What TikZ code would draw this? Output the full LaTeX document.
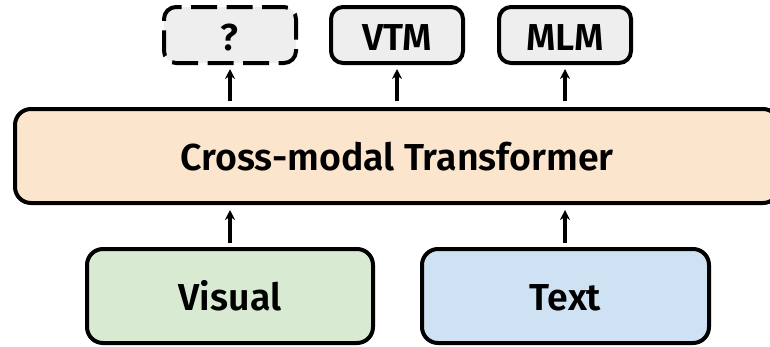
\documentclass[tikz,border=0pt]{standalone}
\usepackage{fontspec}
\setmainfont{Fira Sans}[BoldFont={Fira Sans SemiBold}]
\usetikzlibrary{arrows.meta}
\definecolor{grayfill}{HTML}{EEEEEE}
\definecolor{peach}{HTML}{FCE5CD}
\definecolor{greenfill}{HTML}{D9EAD3}
\definecolor{bluefill}{HTML}{CFE2F3}
\begin{document}
\begin{tikzpicture}[x=1pt,y=-1pt,
  box/.style={draw=black, line width=4pt, rounded corners=12pt, inner sep=0pt},
  bigbox/.style={box, rounded corners=16pt},
  lbl/.style={font=\bfseries\fontsize{37.5}{40}\selectfont, anchor=base, inner sep=0pt},
  arr/.style={-{Stealth[length=10pt,width=10pt]}, line width=3.2pt}]
\clip (0,0) rectangle (770,346);
\fill[white] (0,0) rectangle (770,346);
% top boxes
\node[box, dash pattern=on 26pt off 9.5pt, dash phase=4pt, fill=grayfill, minimum width=132pt, minimum height=56pt] (q) at (230,35) {};
\node[box, fill=grayfill, minimum width=132pt, minimum height=56pt] (vtm) at (397,35) {};
\node[box, fill=grayfill, minimum width=132pt, minimum height=56pt] (mlm) at (565,35) {};
\node[lbl] (ql) at (229,50) {?};
\node[lbl] (vtml) at (397,50) {VTM};
\node[lbl] (mlml) at (565,50) {MLM};
% transformer
\node[bigbox, fill=peach, minimum width=764pt, minimum height=94pt] (tr) at (397,156) {};
\node[lbl] (trl) at (397,170) {Cross-modal Transformer};
% bottom boxes
\node[bigbox, fill=greenfill, minimum width=286pt, minimum height=94pt] (vis) at (230,296) {};
\node[bigbox, fill=bluefill, minimum width=287pt, minimum height=94pt] (txt) at (565.5,296) {};
\node[lbl] (visl) at (230,310) {Visual};
\node[lbl] (txtl) at (565.5,310) {Text};
% connectors
\coordinate (a1) at (230,101);
\coordinate (a2) at (397,101);
\coordinate (a3) at (565,101);
\coordinate (b1) at (230,243);
\coordinate (b2) at (565,243);
\coordinate (c1) at (230,210);
\coordinate (c2) at (565,210);
\draw[arr] (a1) -- (q.south |- 0,69);
\draw[arr] (a2) -- (vtm.south |- 0,69);
\draw[arr] (a3) -- (mlm.south |- 0,69);
\draw[arr] (b1) -- (c1);
\draw[arr] (b2) -- (c2);
\end{tikzpicture}
\end{document}
